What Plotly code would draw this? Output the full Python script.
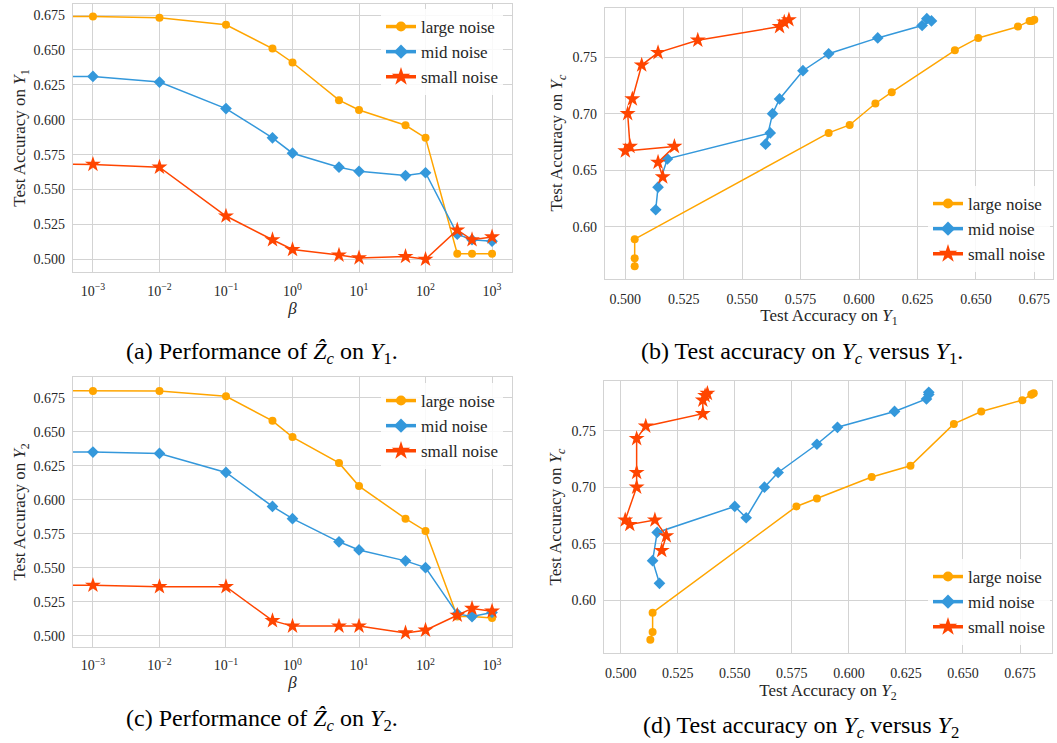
import plotly.graph_objects as go

# ---------------- data ----------------
beta = [0, 1e-3, 1e-2, 1e-1, 0.5, 1, 5, 10, 50, 100, 300, 500, 1000]
beta_ticks = [1e-3, 1e-2, 1e-1, 1, 10, 100, 1000]
beta_ticktext = ["10<sup>−3</sup>", "10<sup>−2</sup>", "10<sup>−1</sup>", "10<sup>0</sup>",
                 "10<sup>1</sup>", "10<sup>2</sup>", "10<sup>3</sup>"]

y1_large = [0.675, 0.674, 0.673, 0.668, 0.651, 0.641, 0.614, 0.607, 0.596, 0.587, 0.504, 0.504, 0.504]
y1_mid = [0.629, 0.631, 0.627, 0.608, 0.587, 0.576, 0.566, 0.563, 0.560, 0.562, 0.518, 0.514, 0.513]
y1_small = [0.570, 0.568, 0.566, 0.531, 0.514, 0.507, 0.503, 0.501, 0.502, 0.500, 0.521, 0.514, 0.516]

y2_large = [0.681, 0.680, 0.680, 0.676, 0.658, 0.646, 0.627, 0.610, 0.586, 0.577, 0.514, 0.514, 0.513]
y2_mid = [0.635, 0.635, 0.634, 0.620, 0.595, 0.586, 0.569, 0.563, 0.555, 0.550, 0.516, 0.514, 0.517]
y2_small = [0.538, 0.537, 0.536, 0.536, 0.511, 0.507, 0.507, 0.507, 0.502, 0.504, 0.515, 0.520, 0.518]

yc_large = [0.783, 0.782, 0.782, 0.777, 0.767, 0.756, 0.719, 0.709, 0.690, 0.683, 0.589, 0.572, 0.565]
yc_mid = [0.784, 0.782, 0.778, 0.767, 0.753, 0.738, 0.713, 0.700, 0.673, 0.683, 0.660, 0.635, 0.615]
yc_small = [0.783, 0.781, 0.777, 0.765, 0.754, 0.743, 0.713, 0.700, 0.671, 0.667, 0.671, 0.657, 0.644]

series_names = ["large noise", "mid noise", "small noise"]
colors = ["#FFA500", "#3498DB", "#FF4500"]
symbols = ["circle", "diamond", "star"]
msizes = [8, 9, 12]

captions = [
    "(a) Performance of <i>Ẑ<sub>c</sub></i> on <i>Y</i><sub>1</sub>.",
    "(b) Test accuracy on <i>Y<sub>c</sub></i> versus <i>Y</i><sub>1</sub>.",
    "(c) Performance of <i>Ẑ<sub>c</sub></i> on <i>Y</i><sub>2</sub>.",
    "(d) Test accuracy on <i>Y<sub>c</sub></i> versus <i>Y</i><sub>2</sub>",
]

# beta = 0 cannot be shown on a log axis: clip it far to the left (like matplotlib)
beta_log = [b if b > 0 else 1e-30 for b in beta]

W, H = 1057, 743
FONT = "Liberation Serif"
TXT = "#262626"
GRID = "#d3d3d3"


def px_x(p):
    return p / W


def px_y(p):
    return 1 - p / H


fig = go.Figure()

panels = [
    ("x", "y", "legend", [beta_log] * 3, [y1_large, y1_mid, y1_small]),
    ("x2", "y2", "legend2", [y1_large, y1_mid, y1_small], [yc_large, yc_mid, yc_small]),
    ("x3", "y3", "legend3", [beta_log] * 3, [y2_large, y2_mid, y2_small]),
    ("x4", "y4", "legend4", [y2_large, y2_mid, y2_small], [yc_large, yc_mid, yc_small]),
]

for xa, ya, lg, xs_list, ys_list in panels:
    for i in range(3):
        fig.add_trace(go.Scatter(
            x=xs_list[i], y=ys_list[i], xaxis=xa, yaxis=ya,
            mode="lines+markers", name=series_names[i], showlegend=False,
            line=dict(color=colors[i], width=1.5),
            marker=dict(symbol=symbols[i], size=msizes[i], color=colors[i]),
        ))
    for i in range(3):
        fig.add_trace(go.Scatter(
            x=[None], y=[None], xaxis=xa, yaxis=ya, legend=lg,
            mode="lines+markers", name=series_names[i], showlegend=True,
            legendgroup=lg + str(i),
            line=dict(color=colors[i], width=3.5),
            marker=dict(symbol=symbols[i], size=msizes[i] + 2, color=colors[i]),
        ))

axis_common = dict(
    showgrid=True, gridcolor=GRID, gridwidth=1,
    showline=True, linecolor=GRID, linewidth=1.2, mirror=True,
    zeroline=False, ticks="", automargin=False,
    tickfont=dict(family=FONT, size=14, color=TXT),
    title_font=dict(family=FONT, size=17, color=TXT),
)

dom = {
    1: (73, 512, 4, 272),
    2: (605, 1053, 7.5, 278.6),
    3: (73, 512, 377.3, 646.5),
    4: (604, 1052, 380.7, 653.3),
}

layout = dict(
    width=W, height=H, margin=dict(l=0, r=0, t=0, b=0),
    paper_bgcolor="white", plot_bgcolor="white",
    font=dict(family=FONT, color=TXT),
)

layout["xaxis"] = dict(axis_common, type="log", range=[-3.3, 3.3],
                       tickvals=beta_ticks, ticktext=beta_ticktext,
                       domain=[px_x(dom[1][0]), px_x(dom[1][1])], anchor="y",
                       title=dict(text="<i>β</i>", standoff=3), ticklabelstandoff=6)
layout["yaxis"] = dict(axis_common, range=[0.4909, 0.6829], dtick=0.025, tick0=0.5,
                       tickformat=".3f",
                       domain=[px_y(dom[1][3]), px_y(dom[1][2])], anchor="x",
                       title=dict(text="Test Accuracy on <i>Y</i><sub>1</sub>", standoff=3),
                       ticklabelstandoff=4)
layout["xaxis2"] = dict(axis_common, range=[0.4913, 0.6830], dtick=0.025, tick0=0.5,
                        tickformat=".3f",
                        domain=[px_x(dom[2][0]), px_x(dom[2][1])], anchor="y2",
                        title=dict(text="Test Accuracy on <i>Y</i><sub>1</sub>", standoff=0),
                        ticklabelstandoff=7)
layout["yaxis2"] = dict(axis_common, range=[0.5541, 0.7939], dtick=0.05, tick0=0.5,
                        tickformat=".2f",
                        domain=[px_y(dom[2][3]), px_y(dom[2][2])], anchor="x2",
                        title=dict(text="Test Accuracy on <i>Y<sub>c</sub></i>", standoff=5),
                        ticklabelstandoff=4)
layout["xaxis3"] = dict(axis_common, type="log", range=[-3.3, 3.3],
                        tickvals=beta_ticks, ticktext=beta_ticktext,
                        domain=[px_x(dom[3][0]), px_x(dom[3][1])], anchor="y3",
                        title=dict(text="<i>β</i>", standoff=3), ticklabelstandoff=6)
layout["yaxis3"] = dict(axis_common, range=[0.492, 0.690], dtick=0.025, tick0=0.5,
                        tickformat=".3f",
                        domain=[px_y(dom[3][3]), px_y(dom[3][2])], anchor="x3",
                        title=dict(text="Test Accuracy on <i>Y</i><sub>2</sub>", standoff=3),
                        ticklabelstandoff=4)
layout["xaxis4"] = dict(axis_common, range=[0.4927, 0.689], dtick=0.025, tick0=0.5,
                        tickformat=".3f",
                        domain=[px_x(dom[4][0]), px_x(dom[4][1])], anchor="y4",
                        title=dict(text="Test Accuracy on <i>Y</i><sub>2</sub>", standoff=0),
                        ticklabelstandoff=7)
layout["yaxis4"] = dict(axis_common, range=[0.5531, 0.7942], dtick=0.05, tick0=0.5,
                        tickformat=".2f",
                        domain=[px_y(dom[4][3]), px_y(dom[4][2])], anchor="x4",
                        title=dict(text="Test Accuracy on <i>Y<sub>c</sub></i>", standoff=5),
                        ticklabelstandoff=4)

legend_common = dict(
    bgcolor="rgba(255,255,255,0.85)", borderwidth=0,
    font=dict(family=FONT, size=17, color=TXT),
    tracegroupgap=0, itemwidth=30,
)
layout["legend"] = dict(legend_common, x=px_x(503), y=px_y(9), xanchor="right", yanchor="top")
layout["legend2"] = dict(legend_common, x=px_x(1050), y=px_y(272), xanchor="right", yanchor="bottom")
layout["legend3"] = dict(legend_common, x=px_x(503), y=px_y(383), xanchor="right", yanchor="top")
layout["legend4"] = dict(legend_common, x=px_x(1050), y=px_y(645), xanchor="right", yanchor="bottom")

cap_pos = [(262, 353), (802, 353), (262, 720), (801, 727)]
layout["annotations"] = [
    dict(text=captions[k], x=px_x(cap_pos[k][0]), y=px_y(cap_pos[k][1]),
         xref="paper", yref="paper", xanchor="center", yanchor="middle",
         showarrow=False, font=dict(family=FONT, size=24, color="black"))
    for k in range(4)
]

fig.update_layout(**layout)
fig.write_html("out.html", config={"displayModeBar": False},
               post_script="document.body.style.margin='0';document.body.style.overflow='hidden';")
